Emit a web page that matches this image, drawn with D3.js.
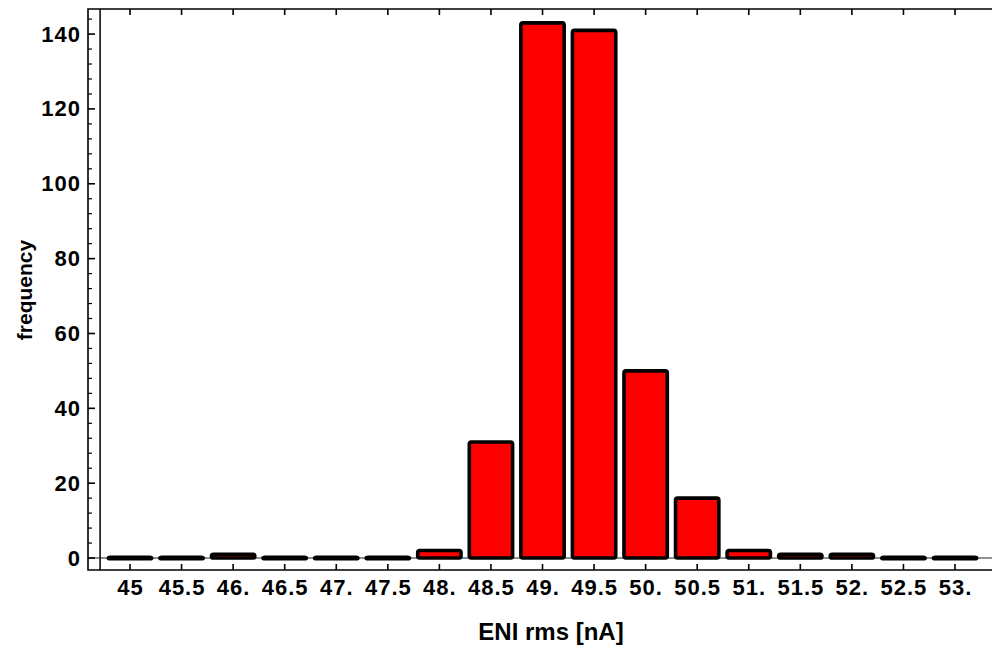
<!DOCTYPE html>
<html>
<head>
<meta charset="utf-8">
<script src="https://cdn.jsdelivr.net/npm/d3@7"></script>
<style>
  body { margin: 0; background: #fff; }
  svg { display: block; }
  text { font-family: "Liberation Sans", Arial, sans-serif; font-weight: bold; fill: #000; }
</style>
</head>
<body>
<svg id="chart" width="992" height="651"></svg>
<script>
// bin centres of the histogram (ENI rms, nA)
var binCenters = [45, 45.5, 46, 46.5, 47, 47.5, 48, 48.5, 49, 49.5, 50, 50.5, 51, 51.5, 52, 52.5, 53]
var frequencies = [0, 0, 1, 0, 0, 0, 2, 31, 143, 141, 50, 16, 2, 1, 1, 0, 0]
var xTickLabels = ["45", "45.5", "46.", "46.5", "47.", "47.5", "48.", "48.5", "49.", "49.5",
                   "50.", "50.5", "51.", "51.5", "52.", "52.5", "53."]
var yMajorTicks = [0, 20, 40, 60, 80, 100, 120, 140]
var xTitle = "ENI rms [nA]"
var yTitle = "frequency"

var svg = d3.select("#chart")

// frame edges
var frameL = 88, frameR = 994, frameT = 9, frameB = 570

var x = d3.scaleLinear().domain([44.5927, 53.378]).range([frameL, frameR])
var y = d3.scaleLinear().domain([-3.2, 146.7]).range([frameB, frameT])

var halfBar = 0.21
var minH = 1.6   // empty bins still show as a flat black bar

// axes that cross inside the frame
svg.append("line")
    .attr("x1", frameL).attr("x2", frameR)
    .attr("y1", y(0)).attr("y2", y(0))
    .attr("stroke", "#222").attr("stroke-width", 1.2)

svg.append("line")
    .attr("x1", x(44.71)).attr("x2", x(44.71))
    .attr("y1", frameT).attr("y2", frameB)
    .attr("stroke", "#000").attr("stroke-width", 1.5)

// bars
svg.append("g")
    .selectAll("rect")
    .data(binCenters)
    .enter().append("rect")
    .attr("x", function(d) { return x(d - halfBar) })
    .attr("width", function(d) { return x(d + halfBar) - x(d - halfBar) })
    .attr("y", function(d, i) { return Math.min(y(frequencies[i]), y(0) - minH / 2) })
    .attr("height", function(d, i) { return Math.max(y(0) - y(frequencies[i]), minH) })
    .attr("rx", 2)
    .attr("fill", "#ff0000")
    .attr("stroke", "#000")
    .attr("stroke-width", 3.6)
    .attr("stroke-linejoin", "round")

// frame
var frame = svg.append("g").attr("stroke", "#000").attr("stroke-width", 1.6).attr("fill", "none")
frame.append("path")
    .attr("d", "M" + frameR + "," + frameT + "L" + frameL + "," + frameT + "L" + frameL + "," + frameB + "L" + frameR + "," + frameB)

// x ticks, bottom and top
binCenters.forEach(function(v) {
    frame.append("line").attr("x1", x(v)).attr("x2", x(v)).attr("y1", frameB).attr("y2", frameB - 6)
    frame.append("line").attr("x1", x(v)).attr("x2", x(v)).attr("y1", frameT).attr("y2", frameT + 6)
})

// y ticks, major and minor
d3.range(0, 147, 4).forEach(function(v) {
    var major = v % 20 === 0
    frame.append("line")
        .attr("x1", frameL).attr("x2", frameL + (major ? 7 : 4))
        .attr("y1", y(v)).attr("y2", y(v))
        .attr("stroke-width", major ? 1.6 : 1.2)
})

// tick labels
svg.append("g")
    .selectAll("text")
    .data(binCenters)
    .enter().append("text")
    .attr("x", function(d) { return x(d) + 0.5 })
    .attr("y", 595)
    .attr("text-anchor", "middle")
    .style("font-size", "22px")
    .style("letter-spacing", "1px")
    .text(function(d, i) { return xTickLabels[i] })

svg.append("g")
    .selectAll("text")
    .data(yMajorTicks)
    .enter().append("text")
    .attr("x", 81)
    .attr("y", function(d) { return y(d) + 7.5 })
    .attr("text-anchor", "end")
    .style("font-size", "22px")
    .style("letter-spacing", "1px")
    .text(function(d) { return d })

// titles
svg.append("text")
    .attr("x", 551)
    .attr("y", 640)
    .attr("text-anchor", "middle")
    .style("font-size", "24px")
    .text(xTitle)

svg.append("text")
    .attr("transform", "translate(32,290) rotate(-90)")
    .attr("text-anchor", "middle")
    .style("font-size", "21px")
    .text(yTitle)
</script>
</body>
</html>
